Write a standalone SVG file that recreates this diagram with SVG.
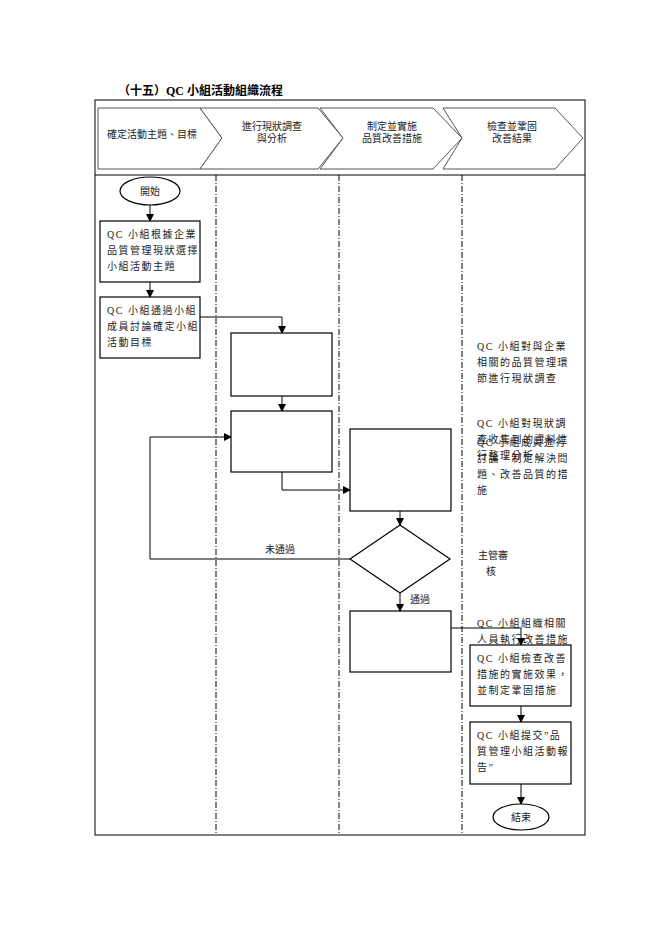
<svg xmlns="http://www.w3.org/2000/svg" width="662" height="936" viewBox="0 0 662 936">
<defs><marker id="ar" markerWidth="8" markerHeight="8" refX="7" refY="4" orient="auto" markerUnits="userSpaceOnUse"><path d="M0,0L8,4L0,8z" fill="#000"/></marker></defs>
<style>
text{font-family:"Liberation Serif","Noto Sans CJK TC",serif;font-size:10px;fill:#222}
.b{fill:#fff;stroke:#000;stroke-width:1.2}
.c{fill:#fff;stroke:#555;stroke-width:1}
.l{fill:none;stroke:#000;stroke-width:1}
.d{stroke:#000;stroke-width:1;stroke-dasharray:6,2,1,2}
.m{text-anchor:middle}
</style>
<rect width="662" height="936" fill="#fff"/>
<text x="118" y="95" style="font-size:12px;font-weight:bold;fill:#000">（十五）QC 小組活動組織流程</text>
<rect x="95" y="100" width="490" height="735" class="l"/>
<line x1="95" y1="175" x2="585" y2="175" class="l"/>
<g id="lanes"><line x1="216" y1="175" x2="216" y2="835" class="d"/><line x1="339" y1="175" x2="339" y2="835" class="d"/><line x1="462" y1="175" x2="462" y2="835" class="d"/></g>
<g id="h1"><polygon points="98,108 200,108 222,138 200,169 98,169" class="c"/><text x="152" y="138" class="m">確定活動主題、目標</text></g>
<g id="h2"><polygon points="200,108 318,108 343,138 318,169 200,169 222,138" class="c"/><text x="272" y="130" class="m">進行現狀調查</text><text x="272" y="142" class="m">與分析</text></g>
<g id="h3"><polygon points="320,108 433,108 462,138 433,169 320,169 343,138" class="c"/><text x="392" y="130" class="m">制定並實施</text><text x="392" y="142" class="m">品質改善措施</text></g>
<g id="h4"><polygon points="443,108 555,108 583,138 555,169 443,169 462,138" class="c"/><text x="512" y="130" class="m">檢查並鞏固</text><text x="512" y="142" class="m">改善結果</text></g>
<g id="connectors">
<line x1="150" y1="205" x2="150" y2="221" class="l" marker-end="url(#ar)"/>
<line x1="150" y1="282" x2="150" y2="297" class="l" marker-end="url(#ar)"/>
<polyline points="200,317 282,317 282,333" class="l" marker-end="url(#ar)"/>
<line x1="282" y1="396" x2="282" y2="411" class="l" marker-end="url(#ar)"/>
<polyline points="282,472 282,490 350,490" class="l" marker-end="url(#ar)"/>
<line x1="400" y1="511" x2="400" y2="525" class="l" marker-end="url(#ar)"/>
<polyline points="350,559 150,559 150,437 231,437" class="l" marker-end="url(#ar)"/>
<line x1="400" y1="593" x2="400" y2="611" class="l" marker-end="url(#ar)"/>
<polyline points="450,628 521,628 521,645" class="l" marker-end="url(#ar)"/>
<line x1="521" y1="706" x2="521" y2="722" class="l" marker-end="url(#ar)"/>
<line x1="521" y1="784" x2="521" y2="804" class="l" marker-end="url(#ar)"/>
<text x="280" y="553" class="m">未通過</text>
<text x="420" y="603" class="m">通過</text>
</g>
<g id="start"><ellipse cx="150" cy="191" rx="30" ry="14" class="b"/><text x="150" y="195" class="m">開始</text></g>
<g id="n1"><rect x="100" y="221" width="100" height="61" class="b"/><text x="107" y="238" letter-spacing="1.5">QC 小組根據企業</text><text x="107" y="254" letter-spacing="1.5">品質管理現狀選擇</text><text x="107" y="270" letter-spacing="1.5">小組活動主題</text></g>
<g id="n2"><rect x="100" y="297" width="100" height="61" class="b"/><text x="107" y="314" letter-spacing="1.5">QC 小組通過小組</text><text x="107" y="330" letter-spacing="1.5">成員討論確定小組</text><text x="107" y="346" letter-spacing="1.5">活動目標</text></g>
<g id="n3"><rect x="231" y="333" width="101" height="63" class="b"/></g>
<g id="n4"><rect x="231" y="411" width="101" height="61" class="b"/></g>
<g id="n5"><rect x="350" y="429" width="101" height="82" class="b"/></g>
<g id="n6"><polygon points="400,525 450,559 400,593 350,559" class="b"/></g>
<g id="n7"><rect x="350" y="611" width="101" height="61" class="b"/></g>
<g id="t1"><text x="477" y="350" letter-spacing="1.5">QC 小組對與企業</text><text x="477" y="366" letter-spacing="1.5">相關的品質管理環</text><text x="477" y="382" letter-spacing="1.5">節進行現狀調查</text></g>
<g id="t2"><text x="477" y="427" letter-spacing="1.5">QC 小組對現狀調</text><text x="477" y="443" letter-spacing="1.5">查收集到的資料進</text><text x="477" y="459" letter-spacing="1.5">行整理分析</text></g>
<g id="t3"><text x="477" y="446" letter-spacing="1.5">QC 小組成員進行</text><text x="477" y="462" letter-spacing="1.5">討論，制定解決問</text><text x="477" y="478" letter-spacing="1.5">題、改善品質的措</text><text x="477" y="494" letter-spacing="1.5">施</text></g>
<g id="t4"><text x="478" y="559">主管審</text><text x="486" y="575">核</text></g>
<g id="t5"><text x="477" y="627" letter-spacing="1.5">QC 小組組織相關</text><text x="477" y="643" letter-spacing="1.5">人員執行改善措施</text></g>
<g id="n8"><rect x="470" y="645" width="101" height="61" class="b"/><text x="477" y="662" letter-spacing="1.5">QC 小組檢查改善</text><text x="477" y="678" letter-spacing="1.5">措施的實施效果，</text><text x="477" y="694" letter-spacing="1.5">並制定鞏固措施</text></g>
<g id="n9"><rect x="470" y="722" width="101" height="62" class="b"/><text x="477" y="739" letter-spacing="1.5">QC 小組提交”品</text><text x="477" y="755" letter-spacing="1.5">質管理小組活動報</text><text x="477" y="771" letter-spacing="1.5">告”</text></g>
<g id="end"><ellipse cx="521" cy="817" rx="28" ry="13" class="b"/><text x="521" y="821" class="m">結束</text></g>
</svg>
